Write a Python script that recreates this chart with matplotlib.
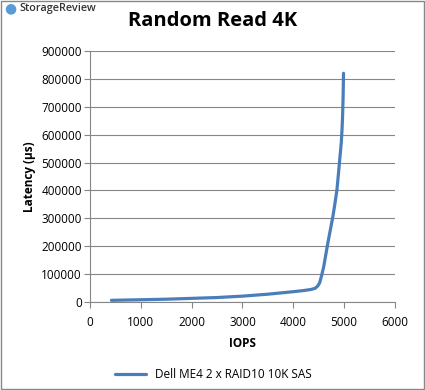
import matplotlib
matplotlib.use("Agg")
import matplotlib.pyplot as plt

plt.rcParams['font.family'] = ['Open Sans', 'DejaVu Sans']

# IOPS vs latency (us)
iops = [420, 700, 1000, 1500, 2000, 2500, 3000, 3500, 4000, 4200, 4350, 4430,
        4480, 4520, 4560, 4600, 4640, 4680, 4730, 4780, 4820, 4860, 4890,
        4920, 4945, 4960, 4972, 4982, 4990]
latency = [5000, 6000, 7000, 9000, 12000, 15000, 20000, 27000, 36000, 40000,
           44000, 48000, 56000, 68000, 95000, 126000, 168000, 210000, 258000,
           306000, 352000, 402000, 460000, 521000, 570000, 617000, 670000,
           740000, 821000]
series_name = 'Dell ME4 2 x RAID10 10K SAS'
xticks = [0, 1000, 2000, 3000, 4000, 5000, 6000]
yticks = [0, 100000, 200000, 300000, 400000, 500000, 600000, 700000, 800000, 900000]

fig = plt.figure(figsize=(4.25, 3.9), dpi=100)
ax = fig.add_axes([0.212, 0.2264, 0.717, 0.642])

ax.plot(iops, latency, color='#4a7ebb', lw=2.3, solid_capstyle='round',
        solid_joinstyle='round', label=series_name)

ax.set_xlim(0, 6000)
ax.set_ylim(0, 900000)
ax.set_xticks(xticks)
ax.set_yticks(yticks)
ax.set_xticklabels([str(v) for v in xticks], fontsize=8.5)
ax.set_yticklabels([str(v) for v in yticks], fontsize=8.5)
ax.yaxis.grid(True, color='#868686', lw=0.8)
ax.set_axisbelow(True)
for s in ['top', 'right']:
    ax.spines[s].set_visible(False)
for s in ['left', 'bottom']:
    ax.spines[s].set_color('#868686')
ax.tick_params(axis='x', direction='out', length=4, color='#868686', pad=6)
ax.tick_params(axis='y', length=4, color='#868686', pad=2)

ax.set_xlabel('IOPS', fontsize=8.5, fontweight='bold', labelpad=6)
ax.set_ylabel('Latency (µs)', fontsize=8.5, fontweight='bold', labelpad=4)

fig.text(0.5, 0.945, 'Random Read 4K', ha='center', va='center',
         fontsize=14.5, fontweight='bold')
fig.text(0.01, 0.978, '●', color='#5b9bd5', fontsize=10, ha='left', va='center')
fig.text(0.045, 0.978, 'StorageReview', color='#333333', fontsize=7.8,
         fontweight='semibold', ha='left', va='center')

fig.legend(loc='center', bbox_to_anchor=(0.503, 0.04), frameon=False,
           fontsize=8.5, handlelength=2.6)

fig.patches.append(plt.Rectangle((0.002, 0.002), 0.996, 0.996,
                                 transform=fig.transFigure, fill=False,
                                 edgecolor='#888888', lw=1))

fig.savefig('out.png', dpi=100)
